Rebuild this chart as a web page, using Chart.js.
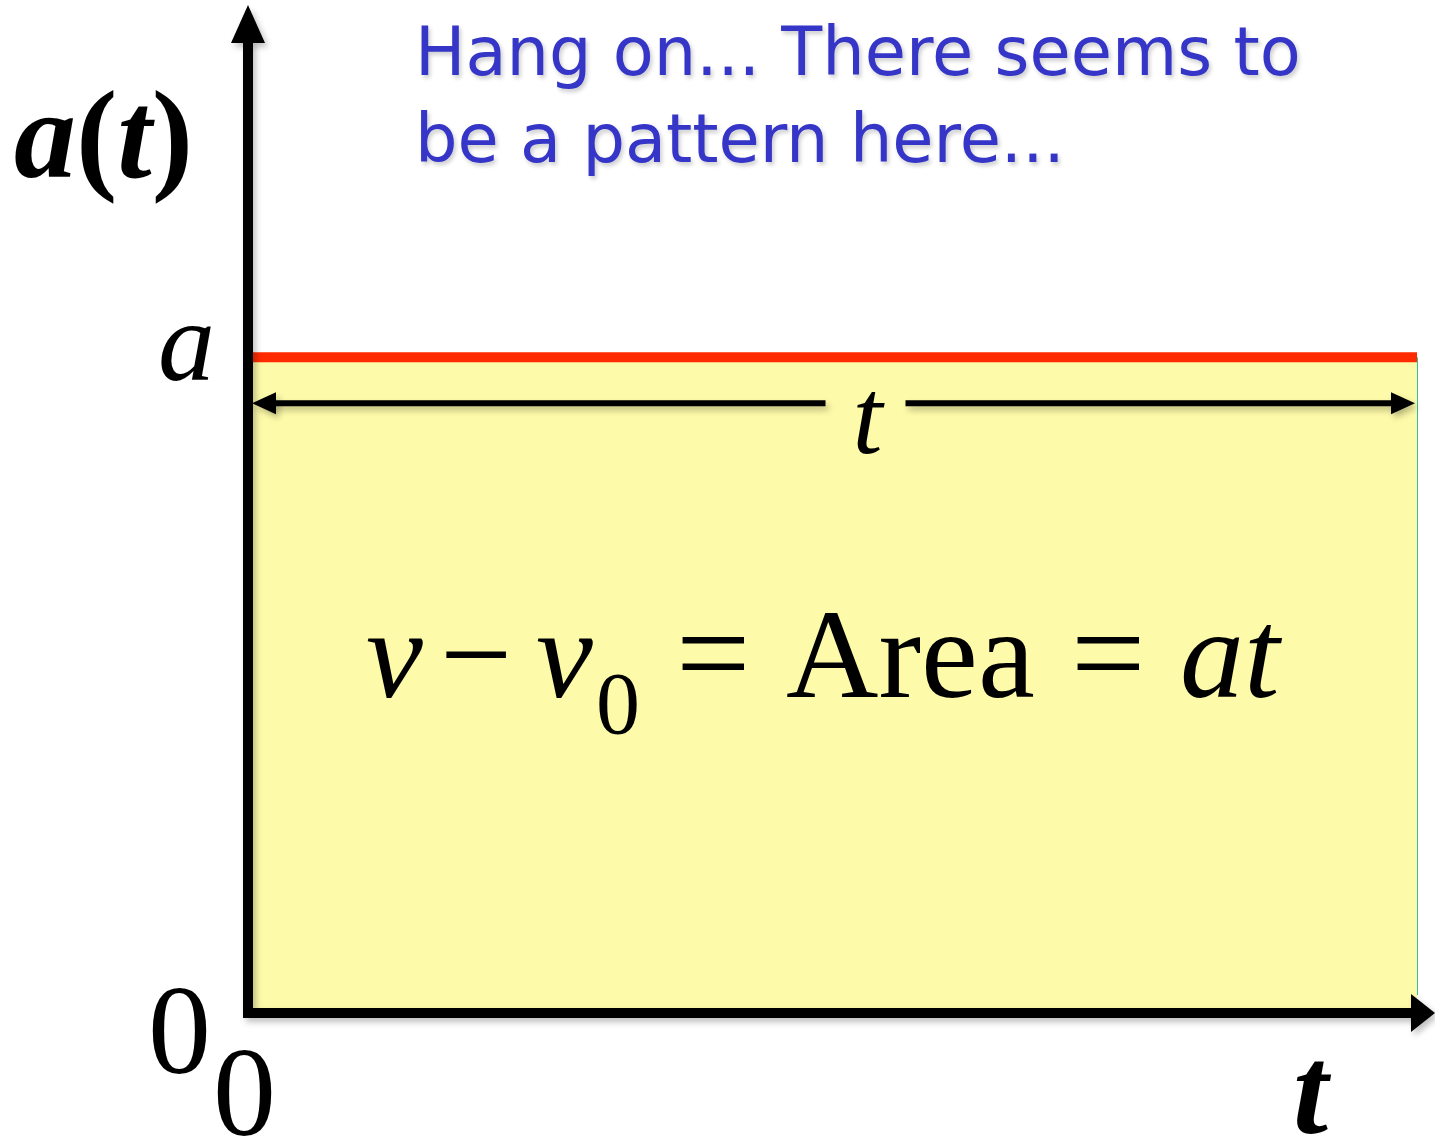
<!DOCTYPE html>
<html>
<head>
<meta charset="utf-8">
<script src="https://cdn.jsdelivr.net/npm/chart.js@4.4.1/dist/chart.umd.min.js"></script>
<style>
	html, body { margin: 0; padding: 0; background: #fff; }
	#canvas-element { display: block; }
</style>
</head>
<body>
<canvas id="canvas-element" width="1435" height="1139"></canvas>
<script>
const kTimes = [0, 1];
const kAccel = [1, 1];
const kYMax = 1.537;
const kTitleLines = ["Hang on... There seems to", "be a pattern here..."];
const kSerif = "'Liberation Serif', 'Times New Roman', serif";

function arrowHead(ctx, tipX, tipY, dir, len, half) {
	// dir: unit vector the arrow points along
	const bx = tipX - dir[0] * len;
	const by = tipY - dir[1] * len;
	ctx.beginPath();
	ctx.moveTo(tipX, tipY);
	ctx.lineTo(bx - dir[1] * half, by + dir[0] * half);
	ctx.lineTo(bx + dir[1] * half, by - dir[0] * half);
	ctx.closePath();
	ctx.fill();
}

// draw a list of [text, font, dy] pieces one after another
function drawRuns(ctx, runs, x, y) {
	for (const [text, font, dy] of runs) {
		ctx.font = font;
		ctx.fillText(text, x, y + (dy || 0));
		x += ctx.measureText(text).width;
	}
}

const decorPlugin = {
	id: "decor",
	beforeDatasetsDraw(chart) {
		const {ctx} = chart;
		const x = chart.scales.x;
		const y = chart.scales.y;
		// thin teal edge at t
		ctx.save();
		ctx.strokeStyle = "#2ec4a0";
		ctx.lineWidth = 2;
		ctx.beginPath();
		ctx.moveTo(x.getPixelForValue(kTimes[1]), y.getPixelForValue(kAccel[1]));
		ctx.lineTo(x.getPixelForValue(kTimes[1]), y.getPixelForValue(0) - 18);
		ctx.stroke();
		ctx.restore();
	},
	afterDraw(chart) {
		const {ctx} = chart;
		const x = chart.scales.x;
		const y = chart.scales.y;
		const x0 = x.getPixelForValue(0);
		const y0 = y.getPixelForValue(0);
		const xt = x.getPixelForValue(kTimes[1]);
		const ya = y.getPixelForValue(kAccel[0]);

		ctx.save();
		ctx.shadowColor = "rgba(0,0,0,0.25)";
		ctx.shadowBlur = 6;
		ctx.shadowOffsetX = 3;
		ctx.shadowOffsetY = 4;
		ctx.fillStyle = "#000";
		ctx.strokeStyle = "#000";

		// axes
		ctx.lineWidth = 10;
		ctx.beginPath();
		ctx.moveTo(x0, y0 + 5);
		ctx.lineTo(x0, 40);
		ctx.moveTo(x0 - 5, y0);
		ctx.lineTo(1414, y0);
		ctx.stroke();
		arrowHead(ctx, x0, 5, [0, -1], 38, 17);
		arrowHead(ctx, 1435, y0, [1, 0], 24, 19);

		// double arrow for t
		const ay = ya + 46;
		const mid = (x0 + xt) / 2 + 33;
		ctx.lineWidth = 6;
		ctx.beginPath();
		ctx.moveTo(x0 + 20, ay);
		ctx.lineTo(mid - 40, ay);
		ctx.moveTo(mid + 40, ay);
		ctx.lineTo(xt - 20, ay);
		ctx.stroke();
		arrowHead(ctx, x0 + 4, ay, [-1, 0], 24, 11);
		arrowHead(ctx, xt - 2, ay, [1, 0], 24, 11);
		ctx.restore();

		ctx.save();
		ctx.fillStyle = "#000";
		ctx.textBaseline = "alphabetic";
		ctx.textAlign = "center";
		ctx.font = `italic 108px ${kSerif}`;
		ctx.fillText("t", mid + 2, ay + 50);

		// axis labels
		ctx.textAlign = "left";
		const bi = `bold italic 124px ${kSerif}`;
		const b = `bold 124px ${kSerif}`;
		drawRuns(ctx, [["a", bi], ["(", b], ["t", bi], [")", b]], 14, 177);
		ctx.font = `italic 114px ${kSerif}`;
		ctx.fillText("a", 158, ya + 23);
		ctx.font = `126px ${kSerif}`;
		ctx.fillText("0", 148, 1073);
		ctx.fillText("0", 213, 1135);
		ctx.font = `bold italic 126px ${kSerif}`;
		ctx.fillText("t", 1293, 1133);

		// equation
		const base = 697;
		ctx.font = `italic 128px ${kSerif}`;
		ctx.fillText("v", 366, base);
		ctx.font = `128px ${kSerif}`;
		ctx.fillText("\u2212", 440, base);
		ctx.font = `italic 128px ${kSerif}`;
		ctx.fillText("v", 536, base);
		ctx.font = `88px ${kSerif}`;
		ctx.fillText("0", 596, base + 36);
		ctx.font = `132px ${kSerif}`;
		ctx.fillText("=", 676, base);
		ctx.font = `128px ${kSerif}`;
		ctx.fillText("Area", 786, base);
		ctx.font = `132px ${kSerif}`;
		ctx.fillText("=", 1071, base);
		ctx.font = `italic 128px ${kSerif}`;
		ctx.fillText("at", 1180, base);
		ctx.restore();

		// title
		ctx.save();
		ctx.font = "67px 'DejaVu Sans', sans-serif";
		ctx.fillStyle = "#3535c8";
		ctx.shadowColor = "rgba(0,0,0,0.2)";
		ctx.shadowBlur = 4;
		ctx.shadowOffsetX = 2;
		ctx.shadowOffsetY = 3;
		ctx.fillText(kTitleLines[0], 415, 75, 887);
		ctx.fillText(kTitleLines[1], 415, 162, 662);
		ctx.restore();
	}
};

function renderChart() {
	const context = document.getElementById("canvas-element").getContext("2d");

	return new Chart(context, {
		type: "line",
		data: {
			labels: kTimes,
			datasets: [{
				data: kTimes.map((t, i) => ({x: t, y: kAccel[i]})),
				borderColor: "#ff2a00",
				borderWidth: 10,
				backgroundColor: "#fdfaa9",
				fill: "origin",
				pointRadius: 0,
				tension: 0
			}]
		},
		options: {
			responsive: false,
			animation: false,
			layout: {
				padding: {left: 248, right: 18, top: 5, bottom: 126}
			},
			plugins: {
				legend: {display: false},
				tooltip: {enabled: false}
			},
			scales: {
				x: {type: "linear", min: 0, max: 1, display: false},
				y: {min: 0, max: kYMax, display: false}
			}
		},
		plugins: [decorPlugin]
	});
}

renderChart();
</script>
</body>
</html>
